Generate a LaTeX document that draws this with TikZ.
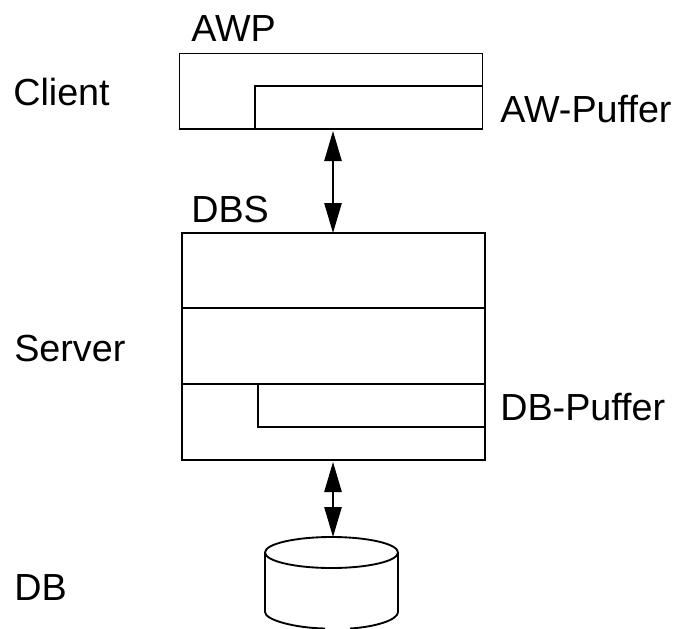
\documentclass[tikz,border=0pt]{standalone}
\usepackage{fontspec}
\setmainfont{Liberation Sans}
\usetikzlibrary{arrows.meta}
\tikzset{
 lbl/.style={anchor=base west,inner sep=0pt,font=\fontsize{28.3pt}{30pt}\selectfont,text=black},
 boxline/.style={draw=black,line width=1.2pt,outer sep=0pt,inner sep=0pt,anchor=north west},
 thin line/.style={draw=black,line width=1.2pt},
 biarrow/.style={draw=black,line width=1.1pt,{Triangle[length=22.5pt,width=13pt]}-{Triangle[length=22.5pt,width=13pt]}},
 cyl/.style={draw=black,line width=1.4pt}
}
\begin{document}
\begin{tikzpicture}[x=0.75pt,y=-0.75pt]
\useasboundingbox (0,0) rectangle (674,628);
\begin{scope}
\clip (0,0) rectangle (674,628);
\node[boxline,minimum width=227.25pt,minimum height=56.5pt] (awp) at (179.5,53.5) {};
\draw[thin line] (255,129) |- (482,86);
\node[boxline,minimum width=227.25pt,minimum height=170.25pt] (dbs) at (182,233) {};
\draw[thin line] (182,308) -- (485,308);
\draw[thin line] (182,384) -- (485,384);
\draw[thin line] (258,384) |- (485,427);
\coordinate (dbtop) at (331.5,537);
\draw[cyl,fill=white] (331.5,552.5) ellipse [x radius=66.5,y radius=15.5];
\draw[cyl] (265,552.5) -- (265,612) .. controls (265,620) and (295,628) .. (325,628.5);
\draw[cyl] (398,552.5) -- (398,612) .. controls (398,620) and (375,627) .. (350,628.5);
\end{scope}
\coordinate (a1) at (333,131);
\coordinate (a2) at (333,233);
\coordinate (b1) at (333,462);
\coordinate (b2) at (333,537);
\draw[biarrow] (a1) -- (a2);
\draw[biarrow] (b1) -- (b2);
\node[lbl] (tawp) at (191,41) {AWP};
\node[lbl] (tclient) at (13,105) {Client};
\node[lbl] (tawb) at (500,122) {AW-Puffer};
\node[lbl] (tdbs) at (191,222) {DBS};
\node[lbl] (tserver) at (14,361) {Server};
\node[lbl] (tdbb) at (500,420) {DB-Puffer};
\node[lbl] (tdb) at (14,600) {DB};
\end{tikzpicture}
\end{document}
